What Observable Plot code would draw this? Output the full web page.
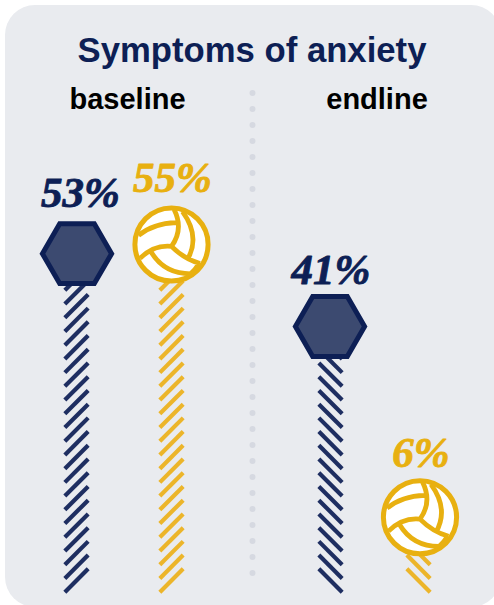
<!DOCTYPE html>
<html>
<head>
<meta charset="utf-8">
<script src="https://cdn.jsdelivr.net/npm/d3@7"></script>
<script src="https://cdn.jsdelivr.net/npm/@observablehq/plot@0.6"></script>
<style>
  html, body { margin: 0; padding: 0; width: 494px; height: 605px; overflow: hidden; background: #fff; }
  #panel { position: absolute; left: 5px; top: 5px; width: 496px; height: 602px; border-radius: 30px; background: #e9ebef; }
  h1 { position: absolute; left: 0; top: 31px; width: 504px; margin: 0; text-align: center; font: bold 34.7px "Liberation Sans", sans-serif; color: #0d1f55; line-height: 38px; }
  #chart { position: absolute; left: 0; top: 0; }
  #chart svg { background: transparent; display: block; }
</style>
</head>
<body>
<div id="panel"></div>
<h1>Symptoms of anxiety</h1>
<div id="chart"></div>
<script>
// Share of respondents reporting symptoms, by round and group
const rounds = ["baseline", "baseline", "endline", "endline"];
const groups = ["hexagon", "ball", "hexagon", "ball"];
const values = [53, 55, 41, 6];
const columns = ["baseline-hexagon", "baseline-ball", "endline-hexagon", "endline-ball"];
const roundLabels = ["baseline", "endline"];

const navy = "#0d1f55", navyStripe = "#1e2e61", gold = "#e8b010", goldStripe = "#ecb52a";

const rows = values.map((value, i) => ({
  value, round: rounds[i], group: groups[i], column: columns[i],
  color: groups[i] === "ball" ? gold : navy,
  stripe: groups[i] === "ball" ? goldStripe : navyStripe
}));

// Stems rise from a common foot below zero, one diagonal dash per step
const stemFoot = -5.36, stemStep = 2.465;
const dashes = rows.flatMap(r =>
  d3.range(stemFoot, r.value, stemStep).map(y => ({...r, y, tilt: r.round === "baseline" ? 45 : -45}))
);

const hexagon = {
  draw(c, size) {
    const r = Math.sqrt(size);
    const h = r * Math.sqrt(3) / 2;
    c.moveTo(r, 0); c.lineTo(r / 2, h); c.lineTo(-r / 2, h);
    c.lineTo(-r, 0); c.lineTo(-r / 2, -h); c.lineTo(r / 2, -h);
    c.closePath();
  }
};

// Panel seams of the ball, in units of its radius; the disc itself is a plain circle dot
const ballSeams = {
  draw(c, size) {
    const r = Math.sqrt(size);
    const p = (x, y) => [x * r, y * r];
    const curve = (a, b, e) => { c.moveTo(...p(...a)); c.quadraticCurveTo(...p(...b), ...p(...e)); };
    curve([0.07, -0.96], [0.34, -0.42], [0.0, 0.05]);
    curve([-0.90, -0.25], [-0.50, -0.58], [0.13, -0.60]);
    curve([-0.86, 0.38], [-0.48, 0.0], [0.0, 0.05]);
    curve([0.0, 0.05], [0.35, 0.40], [0.78, 0.52]);
    curve([0.30, -0.90], [0.80, -0.22], [0.43, 0.42]);
    curve([-0.56, 0.20], [-0.20, 0.80], [0.52, 0.80]);
    curve([0.74, 0.54], [0.66, 0.68], [0.52, 0.80]);
  }
};

// Heads sit slightly off the common scale within each round
const headShift = new Map([[53, -2], [41, 4]]);
const labelLift = new Map([[53, -62], [55, -66], [41, -52], [6, -64]]);
const ballRows = rows.filter(r => r.group === "ball");
const ballRadius = 36.6;

const plot = Plot.plot({
  width: 494, height: 605,
  margin: 0,
  style: { background: "transparent", overflow: "visible" },
  x: {
    type: "ordinal",
    domain: [...columns, ...columns.map(c => c + "-head"), ...columns.map(c => c + "-label"), ...roundLabels, "divider"],
    range: [76, 171, 330, 418, 76.5, 171, 329.5, 419.5, 80, 172, 330.5, 420.5, 127, 376.5, 252],
    axis: null
  },
  y: { domain: [-7.7, 55], range: [593, 244], axis: null },
  marks: [
    Plot.ruleX(["divider"], {
      y1: -4.1, y2: 82.2, stroke: "#d6d9e1", strokeWidth: 6,
      strokeLinecap: "round", strokeDasharray: "0 16"
    }),
    Plot.text(roundLabels, {
      x: d => d, y: 81, text: d => d,
      fontFamily: "Liberation Sans", fontWeight: "bold", fontSize: 29, fill: "#000"
    }),
    Plot.vector(dashes, {
      x: "column", y: "y", rotate: "tilt", length: 33, anchor: "middle",
      stroke: "stripe", strokeWidth: 4.2, strokeLinecap: "butt",
      shape: { draw(c, l) { c.moveTo(0, 0); c.lineTo(0, -l); } }
    }),
    ...rows.filter(r => r.group === "hexagon").map(r =>
      Plot.dot([r], {
        x: d => d.column + "-head", y: "value", dy: headShift.get(r.value), symbol: hexagon, r: 34.6 / Math.sqrt(Math.PI),
        fill: "#3c4a70", stroke: navy, strokeWidth: 5
      })
    ),
    Plot.dot(ballRows, {
      x: d => d.column + "-head", y: "value", r: ballRadius,
      fill: "#fff", stroke: gold, strokeWidth: 5
    }),
    Plot.dot(ballRows, {
      x: d => d.column + "-head", y: "value", symbol: ballSeams, r: ballRadius / Math.sqrt(Math.PI),
      fill: "none", stroke: gold, strokeWidth: 4.8, strokeLinecap: "butt"
    }),
    ...rows.map(r =>
      Plot.text([r], {
        x: d => d.column + "-label", y: "value", dy: labelLift.get(r.value), text: d => `${d.value}%`,
        fill: "color", stroke: "color", strokeWidth: 0.9,
        fontFamily: "Liberation Serif", fontStyle: "italic", fontWeight: "bold", fontSize: 43
      })
    )
  ]
});
document.getElementById("chart").append(plot);
</script>
</body>
</html>
